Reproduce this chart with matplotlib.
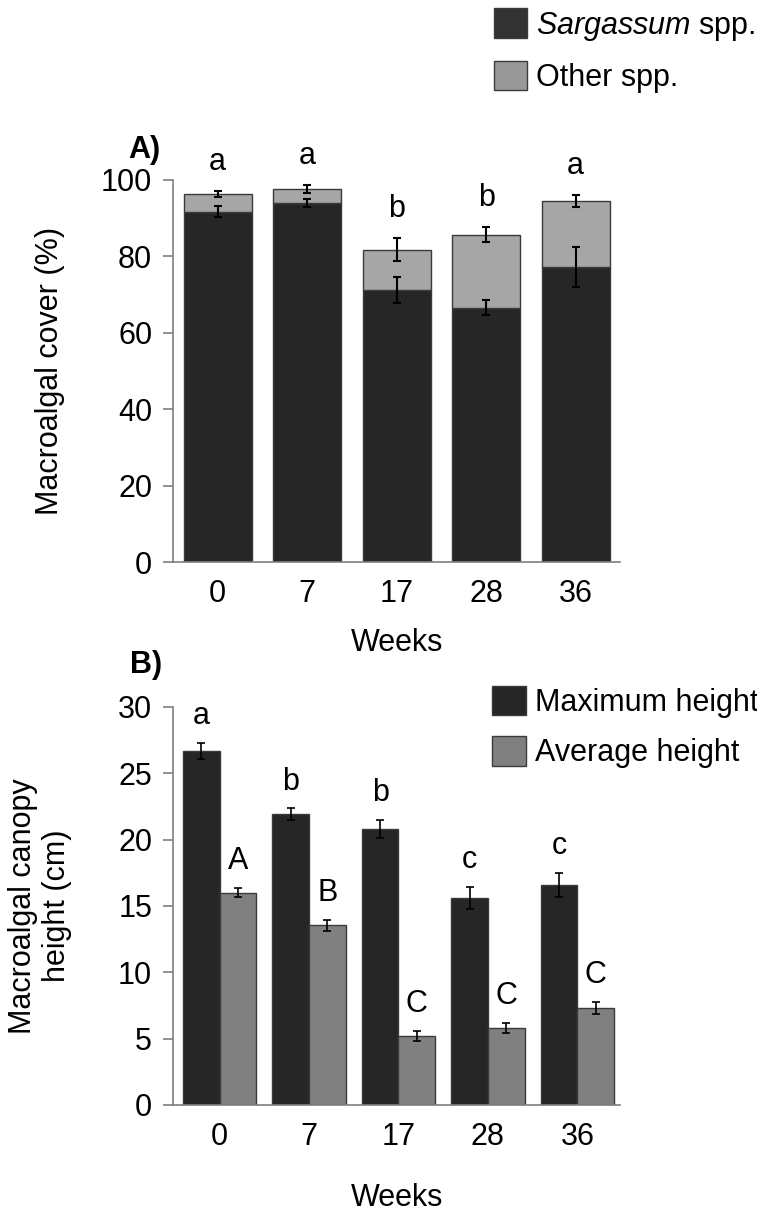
import matplotlib
matplotlib.use("Agg")
import matplotlib.pyplot as plt
import numpy as np
from matplotlib.patches import Patch

plt.rcParams["font.family"] = ["Liberation Sans", "DejaVu Sans"]
plt.rcParams["mathtext.fontset"] = "custom"
plt.rcParams["mathtext.it"] = "Liberation Sans:italic"
plt.rcParams["mathtext.rm"] = "Liberation Sans"

weeks = ["0", "7", "17", "28", "36"]

# panel A: macroalgal cover (%)
sarg_cover = [91.7, 93.9, 71.2, 66.6, 77.2]
sarg_err = [1.4, 1.1, 3.5, 2.0, 5.2]
total_cover = [96.3, 97.6, 81.8, 85.7, 94.5]
total_err = [0.7, 1.0, 3.1, 2.0, 1.5]
cover_letters = ["a", "a", "b", "b", "a"]

# panel B: canopy height (cm)
max_height = [26.7, 21.9, 20.8, 15.6, 16.6]
max_err = [0.6, 0.45, 0.7, 0.8, 0.9]
avg_height = [16.0, 13.55, 5.2, 5.8, 7.3]
avg_err = [0.35, 0.4, 0.35, 0.35, 0.45]
max_letters = ["a", "b", "b", "c", "c"]
avg_letters = ["A", "B", "C", "C", "C"]

DARK = "#262626"
LIGHT_A = "#a6a6a6"
MID_B = "#808080"
EDGE = "#3a3a3a"
SPINE = "#7f7f7f"
FS = 22

fig = plt.figure(figsize=(7.57, 12.12), dpi=100)


def style_axes(ax):
    for s in ("top", "right"):
        ax.spines[s].set_visible(False)
    for s in ("left", "bottom"):
        ax.spines[s].set_color(SPINE)
        ax.spines[s].set_linewidth(1.2)
    ax.tick_params(axis="y", labelsize=FS, color=SPINE, length=7, width=1.2, pad=8)
    ax.tick_params(axis="x", labelsize=FS, length=0, pad=12)


legend_kw = dict(frameon=False, fontsize=FS, handlelength=1.1, handleheight=1.1,
                 handletextpad=0.3, labelspacing=0.6, borderpad=0, borderaxespad=0)

# ---- panel A ----
axA = fig.add_axes([0.2285, 0.5363, 0.591, 0.3152])
x = np.arange(len(weeks))
other = np.array(total_cover) - np.array(sarg_cover)
axA.bar(x, sarg_cover, width=0.76, color=DARK, edgecolor=EDGE, linewidth=1)
axA.bar(x, other, bottom=sarg_cover, width=0.76, color=LIGHT_A, edgecolor=EDGE, linewidth=1)
ekw = dict(fmt="none", ecolor="black", elinewidth=1.5, capsize=3, capthick=1.5)
axA.errorbar(x, sarg_cover, yerr=sarg_err, **ekw)
axA.errorbar(x, total_cover, yerr=total_err, **ekw)
for xi, top, e, lab in zip(x, total_cover, total_err, cover_letters):
    axA.text(xi, top + e + 3.7, lab, ha="center", va="bottom", fontsize=FS)
axA.set_xlim(-0.5, 4.5)
axA.set_ylim(0, 100)
axA.set_yticks(range(0, 101, 20))
axA.set_xticks(x)
axA.set_xticklabels(weeks)
axA.set_xlabel("Weeks", fontsize=FS)
axA.xaxis.set_label_coords(0.5, -0.173)
axA.set_ylabel("Macroalgal cover (%)", fontsize=FS, va="center")
axA.yaxis.set_label_coords(-0.275, 0.5)
style_axes(axA)
fig.text(0.169, 0.876, "A)", fontsize=FS, fontweight="bold", ha="left", va="center")

handlesA = [Patch(facecolor="#333333", edgecolor=EDGE, label=r"$\it{Sargassum}$ spp."),
            Patch(facecolor="#999999", edgecolor=EDGE, label="Other spp.")]
fig.legend(handles=handlesA, loc="upper left", bbox_to_anchor=(0.652, 0.993), **legend_kw)

# ---- panel B ----
axB = fig.add_axes([0.2285, 0.0883, 0.591, 0.3284])
w = 0.41
axB.bar(x - w / 2, max_height, width=w, color=DARK, edgecolor=EDGE, linewidth=1,
        label="Maximum height")
axB.bar(x + w / 2, avg_height, width=w, color=MID_B, edgecolor=EDGE, linewidth=1,
        label="Average height")
ekwB = dict(fmt="none", ecolor="black", elinewidth=1.2, capsize=3, capthick=1.2)
axB.errorbar(x - w / 2, max_height, yerr=max_err, **ekwB)
axB.errorbar(x + w / 2, avg_height, yerr=avg_err, **ekwB)
for xi, top, e, lab in zip(x - w / 2, max_height, max_err, max_letters):
    axB.text(xi, top + e + 0.9, lab, ha="center", va="bottom", fontsize=FS)
for xi, top, e, lab in zip(x + w / 2, avg_height, avg_err, avg_letters):
    axB.text(xi, top + e + 0.9, lab, ha="center", va="bottom", fontsize=FS)
axB.set_xlim(-0.52, 4.48)
axB.set_ylim(0, 30)
axB.set_yticks(range(0, 31, 5))
axB.set_xticks(x)
axB.set_xticklabels(weeks)
axB.set_xlabel("Weeks", fontsize=FS)
axB.xaxis.set_label_coords(0.5, -0.196)
axB.set_ylabel("Macroalgal canopy\nheight (cm)", fontsize=FS, va="center")
axB.yaxis.set_label_coords(-0.297, 0.5)
style_axes(axB)
fig.text(0.172, 0.451, "B)", fontsize=FS, fontweight="bold", ha="left", va="center")
handlesB, labelsB = axB.get_legend_handles_labels()
fig.legend(handlesB, labelsB, loc="upper left", bbox_to_anchor=(0.650, 0.434), **legend_kw)

fig.savefig("out.png", dpi=100)
